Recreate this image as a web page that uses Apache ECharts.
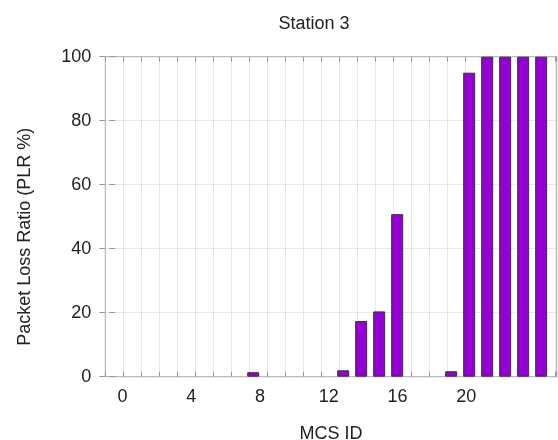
<!DOCTYPE html>
<html>
<head>
<meta charset="utf-8">
<script src="https://cdn.jsdelivr.net/npm/echarts@6/dist/echarts.min.js"></script>
<style>html,body{margin:0;padding:0;background:#fff;}#c{width:558px;height:440px;}</style>
</head>
<body>
<div id="c"></div>
<script>
const mcsIds = [0,1,2,3,4,5,6,7,8,9,10,11,12,13,14,15,16,17,18,19,20,21,22,23,24];
const plr = [0,0,0,0,0,0,0,0,1.4,0,0,0,0,2.0,17.4,20.4,50.8,0,0,1.7,95.0,100,100,100,100];
const xTickLabels = [0,4,8,12,16,20];
const yTickValues = [0,20,40,60,80,100];

const FONT = "'Liberation Sans', Arial, Helvetica, sans-serif";
const TXT = '#222';
const chart = echarts.init(document.getElementById('c'), null, {renderer: 'canvas'});
const barData = mcsIds.map((id, i) => [id, plr[i] === 0 ? null : plr[i]]);

chart.setOption({
  animation: false,
  backgroundColor: '#fff',
  title: {
    text: 'Station 3',
    left: 309, top: 10, textAlign: 'center',
    textStyle: {fontFamily: FONT, fontSize: 18, fontWeight: 'normal', color: TXT}
  },
  grid: {left: 105.3, right: 1.3, top: 56.7, bottom: 63.3, show: true, borderColor: '#999', borderWidth: 1,
    backgroundColor: 'transparent', containLabel: false, outerBoundsMode: 'none'},
  xAxis: [
    {
      type: 'value', min: -0.217, max: 24.863, show: false
    },
    {
      type: 'value', min: 0, max: 25.08, interval: 1, position: 'bottom',
      axisLine: {show: false},
      axisTick: {show: true, inside: true, length: 5, lineStyle: {color: '#999'}},
      axisLabel: {show: false},
      splitLine: {show: true, lineStyle: {color: '#cfcfcf', type: 'dotted'}}
    },
    {
      type: 'value', min: 0, max: 25.08, interval: 1, position: 'top',
      axisLine: {show: false},
      axisTick: {show: true, inside: true, length: 5, lineStyle: {color: '#999'}},
      axisLabel: {show: false},
      splitLine: {show: false}
    },
    {
      type: 'value', min: -1.0, max: 25.26, position: 'bottom',
      axisLine: {show: false}, axisTick: {show: false}, splitLine: {show: false},
      axisLabel: {show: true, customValues: xTickLabels, margin: 11, fontFamily: FONT, fontSize: 18, color: TXT,
        formatter: v => String(v)},
      name: 'MCS ID', nameLocation: 'middle', nameGap: 48,
      nameTextStyle: {fontFamily: FONT, fontSize: 18, color: TXT}
    }
  ],
  yAxis: [
    {
      type: 'value', min: 0, max: 100, interval: 20, position: 'left',
      axisLine: {show: false},
      axisTick: {show: true, inside: true, length: 6, lineStyle: {color: '#999'}},
      axisLabel: {margin: 14, fontFamily: FONT, fontSize: 18, color: TXT,
        customValues: yTickValues},
      splitLine: {show: true, lineStyle: {color: '#cfcfcf', type: 'dotted'}},
      name: 'Packet Loss Ratio (PLR %)', nameLocation: 'middle', nameGap: 71, nameRotate: 90,
      nameTextStyle: {fontFamily: FONT, fontSize: 18, color: TXT, padding: [0, 40, 0, 0]}
    },
    {
      type: 'value', min: 0, max: 100, interval: 20, position: 'right',
      axisLine: {show: false},
      axisTick: {show: true, inside: true, length: 6, lineStyle: {color: '#999'}},
      axisLabel: {show: false},
      splitLine: {show: false}
    }
  ],
  series: [{
    type: 'bar',
    xAxisIndex: 0, yAxisIndex: 0,
    barWidth: 12,
    data: barData,
    itemStyle: {color: '#9400d3', borderColor: '#333', borderWidth: 1}
  }]
});
</script>
</body>
</html>
